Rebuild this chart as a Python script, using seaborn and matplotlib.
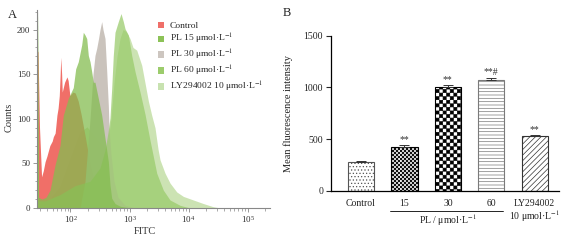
import numpy as np
import pandas as pd
import seaborn as sns
import matplotlib
matplotlib.use("Agg")
import matplotlib.pyplot as plt
import matplotlib.hatch as mhatch
from matplotlib.path import Path
from matplotlib.patches import Patch
from matplotlib.ticker import MultipleLocator, LogLocator, NullFormatter, FixedLocator
from matplotlib.transforms import blended_transform_factory

# ---------------- Panel A data (log10 FITC, counts) ----------------
ctrl_log = [1.425, 1.45, 1.475, 1.51, 1.54, 1.57, 1.60, 1.65, 1.69, 1.71, 1.74, 1.77, 1.79, 1.81,
            1.825, 1.835, 1.85, 1.86, 1.90, 1.94, 1.96, 1.99, 2.04, 2.08, 2.13, 2.18, 2.25, 2.33,
            2.42, 2.50, 2.64, 2.75]
ctrl_cnt = [178, 175, 90, 35, 42, 52, 58, 70, 75, 80, 84, 104, 112, 126, 150, 169, 150, 130, 141,
            147, 143, 126, 130, 129, 120, 105, 80, 50, 25, 10, 2, 0]

pl15_log = [1.425, 1.442, 1.459, 1.517, 1.585, 1.653, 1.737, 1.822, 1.878, 1.963, 2.047, 2.088,
            2.132, 2.19, 2.217, 2.246, 2.275, 2.302, 2.331, 2.359, 2.386, 2.415, 2.471, 2.529,
            2.585, 2.641, 2.669, 2.698, 2.754, 2.839, 3.008]
pl15_cnt = [220, 220, 12, 10, 12, 20, 48, 70, 104, 123, 135, 156, 164, 183, 197, 194, 190, 171,
            164, 153, 141, 141, 123, 104, 78, 52, 26, 11, 5, 2, 0]

pl30_log = [2.161, 2.246, 2.331, 2.381, 2.415, 2.444, 2.475, 2.5, 2.529, 2.551, 2.585, 2.614,
            2.641, 2.653, 2.686, 2.737, 2.805, 2.924, 3.093]
pl30_cnt = [0, 30, 100, 150, 171, 179, 190, 200, 209, 200, 190, 153, 115, 90, 60, 30, 12, 3, 0]

pl60_log = [1.425, 1.442, 1.459, 1.568, 1.822, 2.076, 2.331, 2.5, 2.585, 2.636, 2.669, 2.698,
            2.725, 2.754, 2.81, 2.856, 2.895, 2.924, 2.98, 3.037, 3.093, 3.178, 3.263, 3.347,
            3.461, 3.573, 3.686, 3.856, 4.025]
pl60_cnt = [215, 215, 8, 8, 15, 25, 30, 45, 65, 85, 101, 134, 171, 197, 209, 218, 209, 201, 194,
            171, 153, 130, 105, 76, 39, 20, 9, 3, 0]

ly_log = [1.425, 1.442, 1.459, 1.653, 1.822, 1.992, 2.161, 2.28, 2.415, 2.5, 2.585, 2.636, 2.686,
          2.737, 2.788, 2.839, 2.89, 2.941, 3.008, 3.059, 3.122, 3.207, 3.263, 3.319, 3.376,
          3.432, 3.483, 3.517, 3.602, 3.686, 3.8, 3.912, 4.081, 4.251, 4.415, 4.534]
ly_cnt = [205, 205, 6, 10, 24, 55, 85, 91, 80, 73, 68, 75, 100, 140, 170, 190, 200, 198, 190,
          180, 177, 160, 140, 120, 104, 90, 66, 54, 39, 28, 18, 13, 9, 5, 1.5, 0]

hist_labels = ["Control", r"PL 15 μmol·L$^{-1}$", r"PL 30 μmol·L$^{-1}$",
               r"PL 60 μmol·L$^{-1}$", r"LY294002 10 μmol·L$^{-1}$"]
hist_colors = ["#ef5f58", "#84bd50", "#c8c0b9", "#98ca68", "#c3dfa6"]
legend_colors = ["#ef6f69", "#8cc257", "#cdc6c0", "#9ccc6c", "#c8e2b0"]

# ---------------- Panel B data ----------------
groups = ["Control", "15", "30", "60", "LY294002\n10 μmol·L$^{-1}$"]
mfi = [275, 425, 1005, 1070, 525]
mfi_err = [12, 15, 22, 20, 15]
sig = ["", "**", "**", "**#", "**"]
yticks_b = [0, 500, 1000, 1500]
yticks_a = [0, 50, 100, 150, 200]


# ---------- custom checkerboard hatch (replaces '*') ----------
class _Checker(mhatch.HatchPatternBase):
    filled = True

    def __init__(self, hatch, density):
        n = hatch.count('*')
        if n == 0:
            self.cells = 0
            self.num_vertices = 0
        else:
            self.cells = 28 if n == 1 else 50
            self.num_vertices = (self.cells * self.cells // 2) * 5

    def set_vertices_and_codes(self, vertices, codes):
        c = self.cells
        s = 1.0 / c
        d = 0.0025
        k = 0
        for i in range(c):
            for j in range(c):
                if (i + j) % 2 == 0:
                    x0, y0 = j * s + d, i * s + d
                    x1, y1 = (j + 1) * s - d, (i + 1) * s - d
                    vertices[k:k + 5] = [(x0, y0), (x1, y0), (x1, y1), (x0, y1), (x0, y0)]
                    codes[k] = Path.MOVETO
                    codes[k + 1:k + 4] = Path.LINETO
                    codes[k + 4] = Path.CLOSEPOLY
                    k += 5


mhatch._hatch_types = [t for t in mhatch._hatch_types if t is not mhatch.Stars] + [_Checker]

sns.set_style("ticks")
plt.rcParams["font.family"] = ["Liberation Serif", "DejaVu Serif"]
plt.rcParams["mathtext.fontset"] = "stix"
plt.rcParams["hatch.linewidth"] = 0.5

fig = plt.figure(figsize=(5.67, 2.40), dpi=100)
W, H = 567, 240

# ---------------- Panel A ----------------
ax1 = fig.add_axes([36.5 / W, 1 - 208 / H, (270 - 36.5) / W, 198 / H])
series = [(ly_log, ly_cnt, 4, 0.85), (ctrl_log, ctrl_cnt, 0, 0.9), (pl30_log, pl30_cnt, 2, 0.95),
          (pl60_log, pl60_cnt, 3, 0.72), (pl15_log, pl15_cnt, 1, 0.75)]
for lg, cn, idx, a in series:
    xv = np.power(10.0, np.array(lg))
    yv = np.array(cn, dtype=float)
    ax1.fill_between(xv, 0, yv, color=hist_colors[idx], alpha=a, lw=0)
    sns.lineplot(x=xv, y=yv, ax=ax1, color=hist_colors[idx], lw=0, sort=False,
                 estimator=None, legend=False)

ax1.set_xscale("log")
ax1.set_xlim(10 ** 1.424, 10 ** 5.38)
ax1.set_ylim(0, 222)
ax1.xaxis.set_major_locator(FixedLocator([1e2, 1e3, 1e4, 1e5]))
ax1.xaxis.set_minor_locator(LogLocator(base=10, subs=np.arange(2, 10), numticks=20))
ax1.xaxis.set_minor_formatter(NullFormatter())
ax1.set_yticks(yticks_a)
ax1.yaxis.set_minor_locator(MultipleLocator(10))
for s in ["top", "right"]:
    ax1.spines[s].set_visible(False)
for s in ["left", "bottom"]:
    ax1.spines[s].set_color("#888888")
    ax1.spines[s].set_linewidth(0.8)
ax1.tick_params(axis="both", which="major", length=3, width=0.6, color="#888888",
                labelsize=6.5, labelcolor="#333333", pad=1.5)
ax1.tick_params(axis="both", which="minor", length=1.8, width=0.5, color="#888888")
ax1.set_xlabel("FITC", fontsize=7.5, color="#333333")
ax1.set_ylabel("Counts", fontsize=7.5, color="#333333")
ax1.xaxis.set_label_coords(0.465, -0.095)
ax1.yaxis.set_label_coords(-0.10, 0.46)

handles = [Patch(facecolor=c, edgecolor="none") for c in legend_colors]
ax1.legend(handles, hist_labels, loc="upper left", bbox_to_anchor=(0.52, 0.94), frameon=False,
           fontsize=6.8, handlelength=0.65, handleheight=0.65, handletextpad=0.6,
           labelspacing=0.2, borderpad=0, borderaxespad=0)

# ---------------- Panel B ----------------
ax2 = fig.add_axes([330.7 / W, 1 - 190.7 / H, (559 - 330.7) / W, 155 / H])
df = pd.DataFrame({"group": groups, "mfi": mfi})
sns.barplot(data=df, x="group", y="mfi", ax=ax2, color="white", width=0.6,
            edgecolor="black", linewidth=0.8, errorbar=None)
hatches = [".....", "**", "*", "-----", "//////"]
edges = ["#555555", "black", "black", "#7a7a7a", "#333333"]
for p, h, e in zip(ax2.patches, hatches, edges):
    p.set_facecolor("white")
    p.set_edgecolor(e)
    p.set_hatch(h)
    if hasattr(p, "set_hatchcolor"):
        p.set_hatchcolor(e)
ax2.errorbar(x=np.arange(len(groups)), y=mfi, yerr=[np.zeros(len(mfi)), mfi_err], fmt="none",
             ecolor="#333333", elinewidth=0.7, capsize=3.5, capthick=0.7, zorder=5)
for i, (v, e, t) in enumerate(zip(mfi, mfi_err, sig)):
    if t:
        ax2.text(i, v + e + 8, t, ha="center", va="bottom", fontsize=7, color="#333333")

ax2.set_xlim(-0.70, 4.56)
ax2.set_ylim(0, 1500)
ax2.set_yticks(yticks_b)
ax2.set_xlabel("")
ax2.set_ylabel("Mean fluorescence intensity", fontsize=7.5, color="#222222")
ax2.yaxis.set_label_coords(-0.165, 0.5)
for s in ["top", "right"]:
    ax2.spines[s].set_visible(False)
for s in ["left", "bottom"]:
    ax2.spines[s].set_color("black")
    ax2.spines[s].set_linewidth(0.9)
ax2.tick_params(axis="y", length=3.5, width=0.8, labelsize=7, pad=2, labelcolor="#222222")
ax2.tick_params(axis="x", length=0, labelsize=7, pad=6, labelcolor="#222222")
for lbl in ax2.get_xticklabels():
    lbl.set_verticalalignment("top")
    lbl.set_linespacing(1.0)

tb = blended_transform_factory(ax2.transData, ax2.transAxes)
ax2.plot([0.67, 3.27], [-0.128, -0.128], transform=tb, color="black", lw=0.6, clip_on=False)
ax2.text(2.0, -0.19, r"PL / μmol·L$^{-1}$", transform=tb, ha="center", va="center",
         fontsize=7, color="#222222")

fig.text(12.7 / W, 1 - 15 / H, "A", fontsize=9, ha="center", va="center", color="#222222")
fig.text(287 / W, 1 - 13 / H, "B", fontsize=9, ha="center", va="center", color="#222222")

fig.savefig("out.png", dpi=100)
